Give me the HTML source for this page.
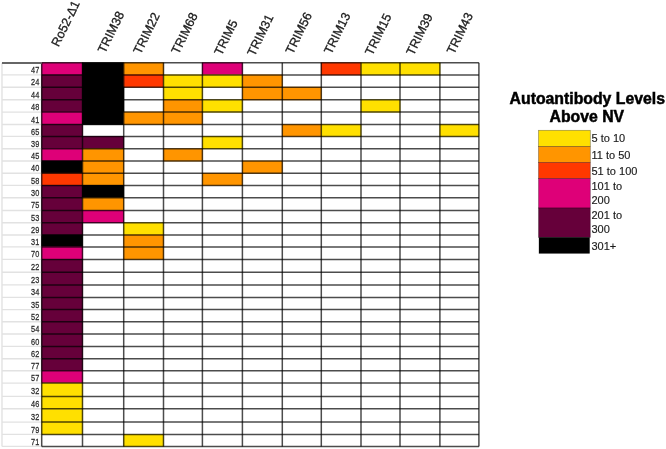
<!DOCTYPE html>
<html><head><meta charset="utf-8"><style>
html,body{margin:0;padding:0;background:#fff;width:666px;height:449px;overflow:hidden}
svg{display:block;will-change:transform}
text{font-family:"Liberation Sans",sans-serif}
.rl{font-size:9.2px;fill:#2a2a2a;stroke:#2a2a2a;stroke-width:0.25px;text-anchor:end}
.hd{font-size:12.5px;fill:#1a1a1a;stroke:#1a1a1a;stroke-width:0.3px}
.lg{font-size:11px;fill:#1a1a1a;stroke:#1a1a1a;stroke-width:0.15px}
.tt{font-size:15.8px;font-weight:bold;fill:#000;stroke:#000;stroke-width:0.5px;text-anchor:middle}
</style></head><body>
<svg width="666" height="449" viewBox="0 0 666 449">
<rect x="41.30" y="62.30" width="41.60" height="13.00" fill="#DE0078"/>
<rect x="82.10" y="62.30" width="42.00" height="13.00" fill="#000000"/>
<rect x="123.30" y="62.30" width="40.60" height="13.00" fill="#FF9500"/>
<rect x="202.00" y="62.30" width="40.80" height="13.00" fill="#DE0078"/>
<rect x="320.90" y="62.30" width="40.50" height="13.00" fill="#FF3800"/>
<rect x="360.60" y="62.30" width="39.80" height="13.00" fill="#FFE000"/>
<rect x="399.60" y="62.30" width="40.70" height="13.00" fill="#FFE000"/>
<rect x="41.30" y="74.50" width="41.60" height="13.10" fill="#66003A"/>
<rect x="82.10" y="74.50" width="42.00" height="13.10" fill="#000000"/>
<rect x="123.30" y="74.50" width="40.60" height="13.10" fill="#FF3800"/>
<rect x="163.10" y="74.50" width="39.70" height="13.10" fill="#FFE000"/>
<rect x="202.00" y="74.50" width="40.80" height="13.10" fill="#FFE000"/>
<rect x="242.00" y="74.50" width="40.70" height="13.10" fill="#FF9500"/>
<rect x="41.30" y="86.80" width="41.60" height="13.40" fill="#66003A"/>
<rect x="82.10" y="86.80" width="42.00" height="13.40" fill="#000000"/>
<rect x="163.10" y="86.80" width="39.70" height="13.40" fill="#FFE000"/>
<rect x="242.00" y="86.80" width="40.70" height="13.40" fill="#FF9500"/>
<rect x="281.90" y="86.80" width="39.80" height="13.40" fill="#FF9500"/>
<rect x="41.30" y="99.40" width="41.60" height="13.10" fill="#66003A"/>
<rect x="82.10" y="99.40" width="42.00" height="13.10" fill="#000000"/>
<rect x="163.10" y="99.40" width="39.70" height="13.10" fill="#FF9500"/>
<rect x="202.00" y="99.40" width="40.80" height="13.10" fill="#FFE000"/>
<rect x="360.60" y="99.40" width="39.80" height="13.10" fill="#FFE000"/>
<rect x="41.30" y="111.70" width="41.60" height="13.20" fill="#DE0078"/>
<rect x="82.10" y="111.70" width="42.00" height="13.20" fill="#000000"/>
<rect x="123.30" y="111.70" width="40.60" height="13.20" fill="#FF9500"/>
<rect x="163.10" y="111.70" width="39.70" height="13.20" fill="#FF9500"/>
<rect x="41.30" y="124.10" width="41.60" height="12.70" fill="#66003A"/>
<rect x="281.90" y="124.10" width="39.80" height="12.70" fill="#FF9500"/>
<rect x="320.90" y="124.10" width="40.50" height="12.70" fill="#FFE000"/>
<rect x="439.50" y="124.10" width="39.80" height="12.70" fill="#FFE000"/>
<rect x="41.30" y="136.00" width="41.60" height="13.10" fill="#66003A"/>
<rect x="82.10" y="136.00" width="42.00" height="13.10" fill="#66003A"/>
<rect x="202.00" y="136.00" width="40.80" height="13.10" fill="#FFE000"/>
<rect x="41.30" y="148.30" width="41.60" height="13.10" fill="#DE0078"/>
<rect x="82.10" y="148.30" width="42.00" height="13.10" fill="#FF9500"/>
<rect x="163.10" y="148.30" width="39.70" height="13.10" fill="#FF9500"/>
<rect x="41.30" y="160.60" width="41.60" height="13.10" fill="#000000"/>
<rect x="82.10" y="160.60" width="42.00" height="13.10" fill="#FF9500"/>
<rect x="242.00" y="160.60" width="40.70" height="13.10" fill="#FF9500"/>
<rect x="41.30" y="172.90" width="41.60" height="12.90" fill="#FF3800"/>
<rect x="82.10" y="172.90" width="42.00" height="12.90" fill="#FF9500"/>
<rect x="202.00" y="172.90" width="40.80" height="12.90" fill="#FF9500"/>
<rect x="41.30" y="185.00" width="41.60" height="13.20" fill="#66003A"/>
<rect x="82.10" y="185.00" width="42.00" height="13.20" fill="#000000"/>
<rect x="41.30" y="197.40" width="41.60" height="13.50" fill="#66003A"/>
<rect x="82.10" y="197.40" width="42.00" height="13.50" fill="#FF9500"/>
<rect x="41.30" y="210.10" width="41.60" height="13.00" fill="#66003A"/>
<rect x="82.10" y="210.10" width="42.00" height="13.00" fill="#DE0078"/>
<rect x="41.30" y="222.30" width="41.60" height="13.10" fill="#66003A"/>
<rect x="123.30" y="222.30" width="40.60" height="13.10" fill="#FFE000"/>
<rect x="41.30" y="234.60" width="41.60" height="12.70" fill="#000000"/>
<rect x="123.30" y="234.60" width="40.60" height="12.70" fill="#FF9500"/>
<rect x="41.30" y="246.50" width="41.60" height="13.30" fill="#DE0078"/>
<rect x="123.30" y="246.50" width="40.60" height="13.30" fill="#FF9500"/>
<rect x="41.30" y="259.00" width="41.60" height="13.70" fill="#66003A"/>
<rect x="41.30" y="271.90" width="41.60" height="13.40" fill="#66003A"/>
<rect x="41.30" y="284.50" width="41.60" height="13.30" fill="#66003A"/>
<rect x="41.30" y="297.00" width="41.60" height="13.00" fill="#66003A"/>
<rect x="41.30" y="309.20" width="41.60" height="12.90" fill="#66003A"/>
<rect x="41.30" y="321.30" width="41.60" height="13.10" fill="#66003A"/>
<rect x="41.30" y="333.60" width="41.60" height="13.20" fill="#66003A"/>
<rect x="41.30" y="346.00" width="41.60" height="13.10" fill="#66003A"/>
<rect x="41.30" y="358.30" width="41.60" height="12.90" fill="#66003A"/>
<rect x="41.30" y="370.40" width="41.60" height="13.10" fill="#DE0078"/>
<rect x="41.30" y="382.70" width="41.60" height="14.10" fill="#FFE000"/>
<rect x="41.30" y="396.00" width="41.60" height="13.10" fill="#FFE000"/>
<rect x="41.30" y="408.30" width="41.60" height="14.20" fill="#FFE000"/>
<rect x="41.30" y="421.70" width="41.60" height="13.10" fill="#FFE000"/>
<rect x="123.30" y="434.00" width="40.60" height="12.80" fill="#FFE000"/>
<line x1="2.00" y1="74.90" x2="41.70" y2="74.90" stroke="#e2e2e2" stroke-width="1.4"/>
<line x1="2.00" y1="87.20" x2="41.70" y2="87.20" stroke="#e2e2e2" stroke-width="1.4"/>
<line x1="2.00" y1="99.80" x2="41.70" y2="99.80" stroke="#e2e2e2" stroke-width="1.4"/>
<line x1="2.00" y1="112.10" x2="41.70" y2="112.10" stroke="#e2e2e2" stroke-width="1.4"/>
<line x1="2.00" y1="124.50" x2="41.70" y2="124.50" stroke="#e2e2e2" stroke-width="1.4"/>
<line x1="2.00" y1="136.40" x2="41.70" y2="136.40" stroke="#e2e2e2" stroke-width="1.4"/>
<line x1="2.00" y1="148.70" x2="41.70" y2="148.70" stroke="#e2e2e2" stroke-width="1.4"/>
<line x1="2.00" y1="161.00" x2="41.70" y2="161.00" stroke="#e2e2e2" stroke-width="1.4"/>
<line x1="2.00" y1="173.30" x2="41.70" y2="173.30" stroke="#e2e2e2" stroke-width="1.4"/>
<line x1="2.00" y1="185.40" x2="41.70" y2="185.40" stroke="#e2e2e2" stroke-width="1.4"/>
<line x1="2.00" y1="197.80" x2="41.70" y2="197.80" stroke="#e2e2e2" stroke-width="1.4"/>
<line x1="2.00" y1="210.50" x2="41.70" y2="210.50" stroke="#e2e2e2" stroke-width="1.4"/>
<line x1="2.00" y1="222.70" x2="41.70" y2="222.70" stroke="#e2e2e2" stroke-width="1.4"/>
<line x1="2.00" y1="235.00" x2="41.70" y2="235.00" stroke="#e2e2e2" stroke-width="1.4"/>
<line x1="2.00" y1="246.90" x2="41.70" y2="246.90" stroke="#e2e2e2" stroke-width="1.4"/>
<line x1="2.00" y1="259.40" x2="41.70" y2="259.40" stroke="#e2e2e2" stroke-width="1.4"/>
<line x1="2.00" y1="272.30" x2="41.70" y2="272.30" stroke="#e2e2e2" stroke-width="1.4"/>
<line x1="2.00" y1="284.90" x2="41.70" y2="284.90" stroke="#e2e2e2" stroke-width="1.4"/>
<line x1="2.00" y1="297.40" x2="41.70" y2="297.40" stroke="#e2e2e2" stroke-width="1.4"/>
<line x1="2.00" y1="309.60" x2="41.70" y2="309.60" stroke="#e2e2e2" stroke-width="1.4"/>
<line x1="2.00" y1="321.70" x2="41.70" y2="321.70" stroke="#e2e2e2" stroke-width="1.4"/>
<line x1="2.00" y1="334.00" x2="41.70" y2="334.00" stroke="#e2e2e2" stroke-width="1.4"/>
<line x1="2.00" y1="346.40" x2="41.70" y2="346.40" stroke="#e2e2e2" stroke-width="1.4"/>
<line x1="2.00" y1="358.70" x2="41.70" y2="358.70" stroke="#e2e2e2" stroke-width="1.4"/>
<line x1="2.00" y1="370.80" x2="41.70" y2="370.80" stroke="#e2e2e2" stroke-width="1.4"/>
<line x1="2.00" y1="383.10" x2="41.70" y2="383.10" stroke="#e2e2e2" stroke-width="1.4"/>
<line x1="2.00" y1="396.40" x2="41.70" y2="396.40" stroke="#e2e2e2" stroke-width="1.4"/>
<line x1="2.00" y1="408.70" x2="41.70" y2="408.70" stroke="#e2e2e2" stroke-width="1.4"/>
<line x1="2.00" y1="422.10" x2="41.70" y2="422.10" stroke="#e2e2e2" stroke-width="1.4"/>
<line x1="2.00" y1="434.40" x2="41.70" y2="434.40" stroke="#e2e2e2" stroke-width="1.4"/>
<line x1="2.00" y1="446.40" x2="41.70" y2="446.40" stroke="#e2e2e2" stroke-width="1.4"/>
<line x1="2.00" y1="62.70" x2="2.00" y2="446.40" stroke="#e2e2e2" stroke-width="1.4"/>
<line x1="41.70" y1="62.70" x2="478.90" y2="62.70" stroke="#000" stroke-opacity="0.7" stroke-width="1.5"/>
<line x1="41.70" y1="74.90" x2="478.90" y2="74.90" stroke="#000" stroke-opacity="0.7" stroke-width="1.5"/>
<line x1="41.70" y1="87.20" x2="478.90" y2="87.20" stroke="#000" stroke-opacity="0.7" stroke-width="1.5"/>
<line x1="41.70" y1="99.80" x2="478.90" y2="99.80" stroke="#000" stroke-opacity="0.7" stroke-width="1.5"/>
<line x1="41.70" y1="112.10" x2="478.90" y2="112.10" stroke="#000" stroke-opacity="0.7" stroke-width="1.5"/>
<line x1="41.70" y1="124.50" x2="478.90" y2="124.50" stroke="#000" stroke-opacity="0.7" stroke-width="1.5"/>
<line x1="41.70" y1="136.40" x2="478.90" y2="136.40" stroke="#000" stroke-opacity="0.7" stroke-width="1.5"/>
<line x1="41.70" y1="148.70" x2="478.90" y2="148.70" stroke="#000" stroke-opacity="0.7" stroke-width="1.5"/>
<line x1="41.70" y1="161.00" x2="478.90" y2="161.00" stroke="#000" stroke-opacity="0.7" stroke-width="1.5"/>
<line x1="41.70" y1="173.30" x2="478.90" y2="173.30" stroke="#000" stroke-opacity="0.7" stroke-width="1.5"/>
<line x1="41.70" y1="185.40" x2="478.90" y2="185.40" stroke="#000" stroke-opacity="0.7" stroke-width="1.5"/>
<line x1="41.70" y1="197.80" x2="478.90" y2="197.80" stroke="#000" stroke-opacity="0.7" stroke-width="1.5"/>
<line x1="41.70" y1="210.50" x2="478.90" y2="210.50" stroke="#000" stroke-opacity="0.7" stroke-width="1.5"/>
<line x1="41.70" y1="222.70" x2="478.90" y2="222.70" stroke="#000" stroke-opacity="0.7" stroke-width="1.5"/>
<line x1="41.70" y1="235.00" x2="478.90" y2="235.00" stroke="#000" stroke-opacity="0.7" stroke-width="1.5"/>
<line x1="41.70" y1="246.90" x2="478.90" y2="246.90" stroke="#000" stroke-opacity="0.7" stroke-width="1.5"/>
<line x1="41.70" y1="259.40" x2="478.90" y2="259.40" stroke="#000" stroke-opacity="0.7" stroke-width="1.5"/>
<line x1="41.70" y1="272.30" x2="478.90" y2="272.30" stroke="#000" stroke-opacity="0.7" stroke-width="1.5"/>
<line x1="41.70" y1="284.90" x2="478.90" y2="284.90" stroke="#000" stroke-opacity="0.7" stroke-width="1.5"/>
<line x1="41.70" y1="297.40" x2="478.90" y2="297.40" stroke="#000" stroke-opacity="0.7" stroke-width="1.5"/>
<line x1="41.70" y1="309.60" x2="478.90" y2="309.60" stroke="#000" stroke-opacity="0.7" stroke-width="1.5"/>
<line x1="41.70" y1="321.70" x2="478.90" y2="321.70" stroke="#000" stroke-opacity="0.7" stroke-width="1.5"/>
<line x1="41.70" y1="334.00" x2="478.90" y2="334.00" stroke="#000" stroke-opacity="0.7" stroke-width="1.5"/>
<line x1="41.70" y1="346.40" x2="478.90" y2="346.40" stroke="#000" stroke-opacity="0.7" stroke-width="1.5"/>
<line x1="41.70" y1="358.70" x2="478.90" y2="358.70" stroke="#000" stroke-opacity="0.7" stroke-width="1.5"/>
<line x1="41.70" y1="370.80" x2="478.90" y2="370.80" stroke="#000" stroke-opacity="0.7" stroke-width="1.5"/>
<line x1="41.70" y1="383.10" x2="478.90" y2="383.10" stroke="#000" stroke-opacity="0.7" stroke-width="1.5"/>
<line x1="41.70" y1="396.40" x2="478.90" y2="396.40" stroke="#000" stroke-opacity="0.7" stroke-width="1.5"/>
<line x1="41.70" y1="408.70" x2="478.90" y2="408.70" stroke="#000" stroke-opacity="0.7" stroke-width="1.5"/>
<line x1="41.70" y1="422.10" x2="478.90" y2="422.10" stroke="#000" stroke-opacity="0.7" stroke-width="1.5"/>
<line x1="41.70" y1="434.40" x2="478.90" y2="434.40" stroke="#000" stroke-opacity="0.7" stroke-width="1.5"/>
<line x1="41.70" y1="446.40" x2="478.90" y2="446.40" stroke="#000" stroke-opacity="0.7" stroke-width="1.5"/>
<line x1="41.70" y1="62.70" x2="41.70" y2="446.40" stroke="#000" stroke-opacity="0.7" stroke-width="1.5"/>
<line x1="82.50" y1="62.70" x2="82.50" y2="446.40" stroke="#000" stroke-opacity="0.7" stroke-width="1.5"/>
<line x1="123.70" y1="62.70" x2="123.70" y2="446.40" stroke="#000" stroke-opacity="0.7" stroke-width="1.5"/>
<line x1="163.50" y1="62.70" x2="163.50" y2="446.40" stroke="#000" stroke-opacity="0.7" stroke-width="1.5"/>
<line x1="202.40" y1="62.70" x2="202.40" y2="446.40" stroke="#000" stroke-opacity="0.7" stroke-width="1.5"/>
<line x1="242.40" y1="62.70" x2="242.40" y2="446.40" stroke="#000" stroke-opacity="0.7" stroke-width="1.5"/>
<line x1="282.30" y1="62.70" x2="282.30" y2="446.40" stroke="#000" stroke-opacity="0.7" stroke-width="1.5"/>
<line x1="321.30" y1="62.70" x2="321.30" y2="446.40" stroke="#000" stroke-opacity="0.7" stroke-width="1.5"/>
<line x1="361.00" y1="62.70" x2="361.00" y2="446.40" stroke="#000" stroke-opacity="0.7" stroke-width="1.5"/>
<line x1="400.00" y1="62.70" x2="400.00" y2="446.40" stroke="#000" stroke-opacity="0.7" stroke-width="1.5"/>
<line x1="439.90" y1="62.70" x2="439.90" y2="446.40" stroke="#000" stroke-opacity="0.7" stroke-width="1.5"/>
<line x1="478.90" y1="62.70" x2="478.90" y2="446.40" stroke="#000" stroke-opacity="0.7" stroke-width="1.5"/>
<line x1="2.00" y1="63.10" x2="41.70" y2="63.10" stroke="#666" stroke-width="2"/>
<text transform="translate(39.3 73.10) scale(0.8 1)" class="rl">47</text>
<text transform="translate(39.3 85.35) scale(0.8 1)" class="rl">24</text>
<text transform="translate(39.3 97.80) scale(0.8 1)" class="rl">44</text>
<text transform="translate(39.3 110.25) scale(0.8 1)" class="rl">48</text>
<text transform="translate(39.3 122.60) scale(0.8 1)" class="rl">41</text>
<text transform="translate(39.3 134.75) scale(0.8 1)" class="rl">65</text>
<text transform="translate(39.3 146.85) scale(0.8 1)" class="rl">39</text>
<text transform="translate(39.3 159.15) scale(0.8 1)" class="rl">45</text>
<text transform="translate(39.3 171.45) scale(0.8 1)" class="rl">40</text>
<text transform="translate(39.3 183.65) scale(0.8 1)" class="rl">58</text>
<text transform="translate(39.3 195.90) scale(0.8 1)" class="rl">30</text>
<text transform="translate(39.3 208.45) scale(0.8 1)" class="rl">75</text>
<text transform="translate(39.3 220.90) scale(0.8 1)" class="rl">53</text>
<text transform="translate(39.3 233.15) scale(0.8 1)" class="rl">29</text>
<text transform="translate(39.3 245.25) scale(0.8 1)" class="rl">31</text>
<text transform="translate(39.3 257.45) scale(0.8 1)" class="rl">70</text>
<text transform="translate(39.3 270.15) scale(0.8 1)" class="rl">22</text>
<text transform="translate(39.3 282.90) scale(0.8 1)" class="rl">23</text>
<text transform="translate(39.3 295.45) scale(0.8 1)" class="rl">34</text>
<text transform="translate(39.3 307.80) scale(0.8 1)" class="rl">35</text>
<text transform="translate(39.3 319.95) scale(0.8 1)" class="rl">52</text>
<text transform="translate(39.3 332.15) scale(0.8 1)" class="rl">54</text>
<text transform="translate(39.3 344.50) scale(0.8 1)" class="rl">60</text>
<text transform="translate(39.3 356.85) scale(0.8 1)" class="rl">62</text>
<text transform="translate(39.3 369.05) scale(0.8 1)" class="rl">77</text>
<text transform="translate(39.3 381.25) scale(0.8 1)" class="rl">57</text>
<text transform="translate(39.3 394.05) scale(0.8 1)" class="rl">32</text>
<text transform="translate(39.3 406.85) scale(0.8 1)" class="rl">46</text>
<text transform="translate(39.3 419.70) scale(0.8 1)" class="rl">32</text>
<text transform="translate(39.3 432.55) scale(0.8 1)" class="rl">79</text>
<text transform="translate(39.3 444.70) scale(0.8 1)" class="rl">71</text>
<text x="58.5" y="47.5" class="hd" transform="rotate(-64 58.5 47.5)">Ro52-Δ1</text>
<text x="105.0" y="54.0" class="hd" transform="rotate(-64 105.0 54.0)">TRIM38</text>
<text x="140.6" y="55.1" class="hd" transform="rotate(-64 140.6 55.1)">TRIM22</text>
<text x="178.6" y="55.1" class="hd" transform="rotate(-64 178.6 55.1)">TRIM68</text>
<text x="221.5" y="56.2" class="hd" transform="rotate(-64 221.5 56.2)">TRIM5</text>
<text x="254.4" y="56.9" class="hd" transform="rotate(-64 254.4 56.9)">TRIM31</text>
<text x="292.8" y="54.9" class="hd" transform="rotate(-64 292.8 54.9)">TRIM56</text>
<text x="331.2" y="55.1" class="hd" transform="rotate(-64 331.2 55.1)">TRIM13</text>
<text x="372.3" y="56.2" class="hd" transform="rotate(-64 372.3 56.2)">TRIM15</text>
<text x="413.5" y="56.2" class="hd" transform="rotate(-64 413.5 56.2)">TRIM39</text>
<text x="453.9" y="55.1" class="hd" transform="rotate(-64 453.9 55.1)">TRIM43</text>
<rect x="538.5" y="130.3" width="51.80" height="16.20" fill="#FFE000" stroke="rgba(0,0,0,0.4)" stroke-width="0.7"/>
<rect x="538.5" y="146.5" width="51.80" height="15.90" fill="#FF9500" stroke="rgba(0,0,0,0.4)" stroke-width="0.7"/>
<rect x="538.5" y="162.4" width="51.80" height="16.20" fill="#FF3800" stroke="rgba(0,0,0,0.4)" stroke-width="0.7"/>
<rect x="538.5" y="178.6" width="51.80" height="29.40" fill="#DE0078" stroke="rgba(0,0,0,0.4)" stroke-width="0.7"/>
<rect x="538.5" y="208" width="51.80" height="29.40" fill="#66003A" stroke="rgba(0,0,0,0.4)" stroke-width="0.7"/>
<rect x="539.0" y="237.4" width="50.60" height="16.00" fill="#000000" stroke="rgba(0,0,0,0.4)" stroke-width="0.7"/>
<text x="591.5" y="142.3" class="lg">5 to 10</text>
<text x="591.5" y="158.9" class="lg">11 to 50</text>
<text x="591.5" y="174.6" class="lg">51 to 100</text>
<text x="591.5" y="190.0" class="lg">101 to</text>
<text x="591.5" y="204.3" class="lg">200</text>
<text x="591.5" y="218.6" class="lg">201 to</text>
<text x="591.5" y="232.9" class="lg">300</text>
<text x="591.5" y="249.5" class="lg">301+</text>
<text x="587.3" y="104.3" class="tt">Autoantibody Levels</text>
<text x="586.8" y="121.8" class="tt">Above NV</text>
</svg>
</body></html>
